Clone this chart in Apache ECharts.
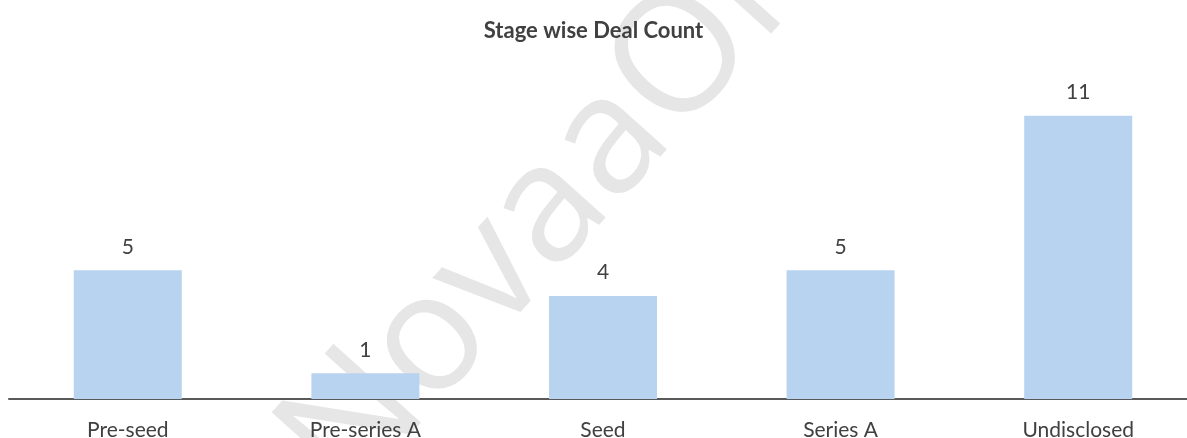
<!DOCTYPE html>
<html>
<head>
<meta charset="utf-8">
<title>Stage wise Deal Count</title>
<script src="https://cdn.jsdelivr.net/npm/echarts@6/dist/echarts.min.js"></script>
<style>
    html, body { margin: 0; padding: 0; background: #fff; }
    #main { width: 1187px; height: 438px; }
</style>
</head>
<body>
<div id="main"></div>
<script>
// data
var stages = ['Pre-seed', 'Pre-series A', 'Seed', 'Series A', 'Undisclosed'];
var dealCount = [5, 1, 4, 5, 11];

var myChart = echarts.init(document.getElementById('main'));

var option = {
    backgroundColor: '#ffffff',
    animation: false,
    textStyle: { fontFamily: 'Lato' },
    title: {
        text: 'Stage wise Deal Count',
        left: 'center',
        top: 15,
        textStyle: {
            fontFamily: 'Lato',
            fontWeight: 'bold',
            fontSize: 22,
            color: '#404040'
        }
    },
    // watermark behind the bars
    graphic: [{
        type: 'text',
        x: 585,
        y: 170,
        rotation: 48 * Math.PI / 180,
        z: -10,
        silent: true,
        style: {
            text: 'NovaaOne',
            fontFamily: 'Open Sans',
            fontSize: 165,
            fill: '#e6e6e6',
            align: 'center',
            verticalAlign: 'middle'
        }
    }],
    grid: {
        left: 9,
        width: 1188,
        top: 90,
        bottom: 39,
        outerBoundsMode: 'none'
    },
    xAxis: {
        type: 'category',
        data: stages,
        axisTick: { show: false },
        axisLine: { lineStyle: { color: '#595959', width: 2 } },
        axisLabel: {
            color: '#404040',
            fontFamily: 'Lato',
            fontSize: 21,
            margin: 21
        }
    },
    yAxis: {
        type: 'value',
        min: 0,
        max: 12,
        show: false,
        splitLine: { show: false }
    },
    series: [{
        name: 'Deal Count',
        type: 'bar',
        data: dealCount,
        barWidth: 108,
        itemStyle: { color: '#b8d3ef' },
        label: {
            show: true,
            position: 'top',
            distance: 13,
            color: '#404040',
            fontFamily: 'Lato',
            fontSize: 21
        }
    }]
};

myChart.setOption(option);
</script>
</body>
</html>
